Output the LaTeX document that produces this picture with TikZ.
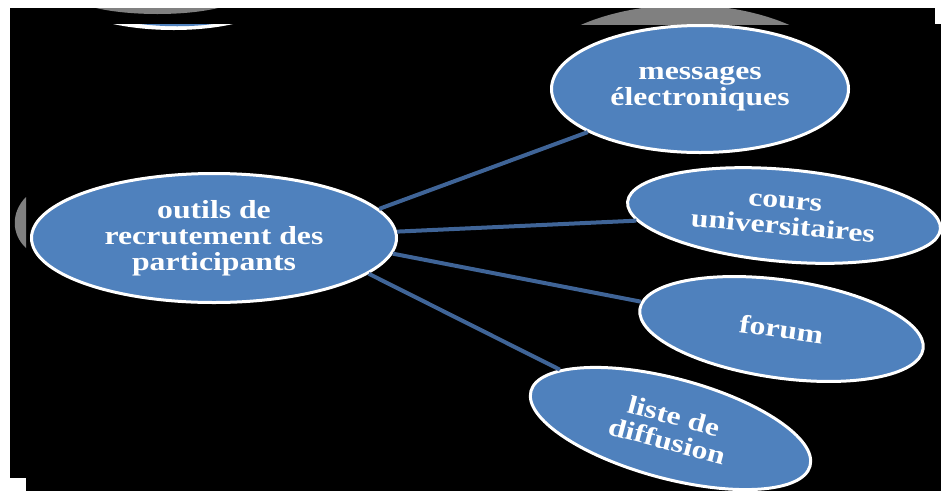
\documentclass[tikz,border=0pt]{standalone}
\usepackage{fontspec}
\setmainfont{Liberation Serif}[FakeStretch=1.22]
\usetikzlibrary{shapes.geometric}
\definecolor{ovalblue}{HTML}{4F81BD}
\definecolor{linkblue}{HTML}{3F6497}
\definecolor{shadegray}{HTML}{808080}
\tikzset{
  oval/.style={ellipse, fill=ovalblue, draw=white, line width=3pt, inner sep=0pt,
    text=white, font=\fontsize{26}{26}\selectfont\bfseries, align=center},
  link/.style={draw=linkblue, line width=4pt},
}
\begin{document}
\begin{tikzpicture}[x=1pt,y=-1pt]
\useasboundingbox (0,0) rectangle (941,491);
% background
\fill[white] (0,0) rectangle (941,491);
\fill[black] (10,8) rectangle (941,478);
\fill[black] (26,478) rectangle (941,491);
\fill[white] (935,8) rectangle (941,24);
% clipped shadow fragments
\fill[shadegray] (96,8) .. controls (130,16) and (185,16) .. (218,8) -- cycle;
\fill[white] (113,24) .. controls (150,32) and (198,32) .. (233,24) -- cycle;
\fill[ovalblue] (140,24) .. controls (165,27) and (190,27) .. (213,24) -- cycle;
\fill[shadegray] (26,197) .. controls (11,212) and (11,234) .. (26,248) -- cycle;
\begin{scope}
  \clip (560,8) rectangle (820,24);
  \fill[shadegray] (685,95) ellipse [x radius=166, y radius=90];
\end{scope}
% nodes
\node[oval, minimum width=365pt, minimum height=129pt] (c) at (214,238)
  {outils de\\recrutement des\\participants};
\node[oval, minimum width=297pt, minimum height=127pt] (m) at (700,89)
  {messages\\électroniques};
\node[oval, rotate=-5, minimum width=314pt, minimum height=92pt] (co) at (784,215.5)
  {cours\\universitaires};
\node[oval, rotate=-8, minimum width=286pt, minimum height=98pt] (f) at (781.5,329)
  {forum};
\node[oval, rotate=-15, minimum width=289pt, minimum height=100pt] (l) at (670.5,428.5)
  {liste de\\diffusion};
% connectors
\draw[link] (c.10) -- (m.201);
\draw[link] (c.2) -- (co.187);
\draw[link] (c.-5) -- (f.177);
\draw[link] (c.-13) -- (l.167);
\end{tikzpicture}
\end{document}
